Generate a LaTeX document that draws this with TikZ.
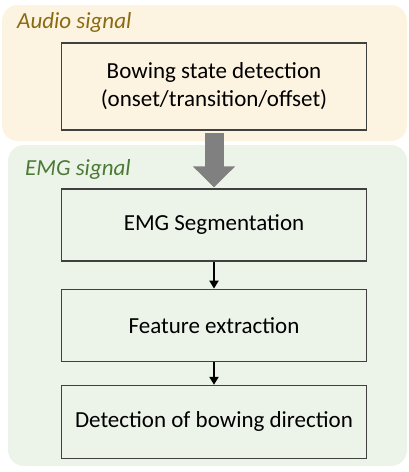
\documentclass[tikz,border=0pt]{standalone}
\usepackage{fontspec}
\setmainfont{Carlito}
\usetikzlibrary{positioning}
\usetikzlibrary{arrows.meta}

\definecolor{audiobg}{HTML}{FDF3E1}
\definecolor{emgbg}{HTML}{ECF4E9}
\definecolor{audiotxt}{HTML}{8A6A12}
\definecolor{emgtxt}{HTML}{4C7A36}
\definecolor{boxline}{HTML}{404040}

\tikzset{
  panel/.style={rounded corners=16pt},
  stage/.style={draw=boxline,line width=1.2pt,minimum width=305pt,minimum height=72pt,
    align=center,font=\fontsize{23}{28}\selectfont},
  tag/.style={anchor=base west,inner sep=0pt,font=\fontsize{23}{26}\selectfont\itshape},
  flow/.style={line width=2pt,-{Triangle[width=9pt,length=8pt]}}
}

\begin{document}
\begin{tikzpicture}[x=1pt,y=-1pt,node distance=27pt]
  \useasboundingbox (0,0) rectangle (408,472);

  % the two background areas
  \fill[panel,audiobg] (2,5) rectangle (407,141);
  \fill[panel,emgbg] (8,145) rectangle (407,466);
  \node[tag,text=audiotxt] (audio) at (17,28) {Audio signal};
  \node[tag,text=emgtxt] (emg) at (25,175) {EMG signal};

  % processing stages
  \node[stage,fill=audiobg,minimum height=87pt] (state) at (214,86.5)
    {Bowing state detection\\(onset/transition/offset)};
  \node[stage,fill=emgbg] (seg) at (214,225) {EMG Segmentation};
  \node[stage,fill=emgbg,below=of seg] (feat) {Feature extraction};
  \node[stage,fill=emgbg,below=23pt of feat,minimum height=73pt] (dir) {Detection of bowing direction};

  \draw[line width=19pt,gray,-{Triangle[width=41pt,length=21pt]}]
    ([yshift=-2pt]state.south) -- ([yshift=1pt]seg.north);
  \draw[flow](seg)--(feat);
  \draw[flow](feat)--(dir);
\end{tikzpicture}
\end{document}
